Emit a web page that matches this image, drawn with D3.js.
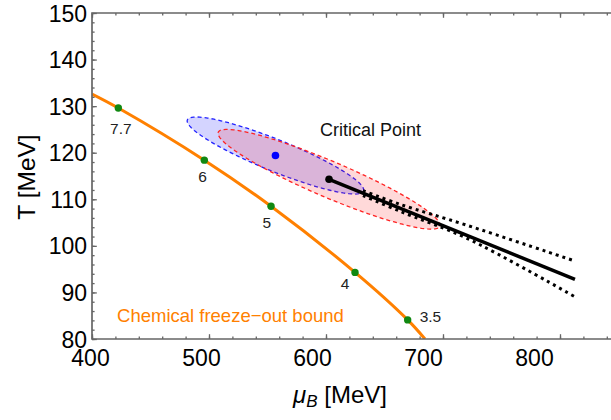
<!DOCTYPE html>
<html>
<head>
<meta charset="utf-8">
<script src="https://cdn.jsdelivr.net/npm/d3@7"></script>
<style>
  body { margin: 0; background: #fff; }
  text { font-family: "Liberation Sans", Arial, sans-serif; }
</style>
</head>
<body>
<div id="chart"></div>
<script>
// freeze-out curve, [muB, T] in MeV
const freezeOutCurve = [[400, 132.6], [422.5, 129.6], [496, 118.4], [553, 108.5], [624.8, 94.3], [669.8, 84.1], [684.6, 80]];
// collision energies (GeV) marked on the curve
const energyLabels = ["7.7", "6", "5", "4", "3.5"];
const energyMuB = [422.5, 496, 553, 624.8, 669.8];
const energyT = [129.6, 118.4, 108.5, 94.3, 84.1];

// critical point and the blue estimate, [muB, T]
const criticalPoint = [602.6, 114.3];
const blueEstimate = [556.8, 119.4];

// uncertainty ellipses: centre, semi-major and conjugate semi-minor vectors (MeV)
const blueCenter = [556.8, 119.4], blueMajor = [75.3, -7.65], blueMinor = [5.06, 3.15];
const redCenter = [602.6, 114.3], redMajor = [94.7, -10.1], redMinor = [6.0, 3.56];

// first order transition line and its error band
const transitionLine = [[602.6, 114.3], [812.8, 92.8]];
const bandUpper = [[631.6, 111.85], [663.2, 108.93], [720.5, 104.42], [811.1, 96.89]];
const bandLower = [[631.6, 110.8], [663.2, 107.43], [720.5, 101.62], [812.8, 89.05]];

const xMajor = [400, 500, 600, 700, 800];
const xMinor = d3.range(400, 861, 20);
const yMajor = [80, 90, 100, 110, 120, 130, 140, 150];
const yMinor = d3.range(80, 150.1, 2);

const width = 611, height = 420;
const plotLeft = 92, plotTop = 13, plotBottom = 339;

const svg = d3.select("#chart").append("svg")
    .attr("width", width)
    .attr("height", height);

const x = d3.scaleLinear().domain([400, 860]).range([plotLeft, plotLeft + 460 * 1.17]);
const y = d3.scaleLinear().domain([80, 150]).range([plotBottom, plotTop]);
// tick labels sit slightly tighter than the ticks in the original
const xLabelScale = d3.scaleLinear().domain([400, 800]).range([90, 534]);

svg.append("clipPath").attr("id", "plotClip")
    .append("rect").attr("x", plotLeft).attr("y", plotTop)
    .attr("width", width - plotLeft).attr("height", plotBottom - plotTop);

const plot = svg.append("g").attr("clip-path", "url(#plotClip)");

// ellipses
function ellipsePoints(c, M, m) {
    return d3.range(0, 360, 3).map(a => {
        const t = a * Math.PI / 180;
        return [c[0] + Math.cos(t) * M[0] + Math.sin(t) * m[0],
                c[1] + Math.cos(t) * M[1] + Math.sin(t) * m[1]];
    });
}
const closed = d3.line().x(d => x(d[0])).y(d => y(d[1])).curve(d3.curveLinearClosed);

plot.append("path")
    .attr("d", closed(ellipsePoints(blueCenter, blueMajor, blueMinor)))
    .attr("fill", "rgba(0,0,255,0.17)")
    .attr("stroke", "#2222ff")
    .attr("stroke-width", 1.3)
    .attr("stroke-dasharray", "4,3");

plot.append("path")
    .attr("d", closed(ellipsePoints(redCenter, redMajor, redMinor)))
    .attr("fill", "rgba(255,0,0,0.15)")
    .attr("stroke", "#ff2222")
    .attr("stroke-width", 1.3)
    .attr("stroke-dasharray", "4,3");

// freeze-out curve
const smooth = d3.line().x(d => x(d[0])).y(d => y(d[1])).curve(d3.curveCatmullRom);
plot.append("path")
    .attr("d", smooth(freezeOutCurve))
    .attr("fill", "none")
    .attr("stroke", "#ff8000")
    .attr("stroke-width", 3);

// transition line and band
const straight = d3.line().x(d => x(d[0])).y(d => y(d[1]));
[bandUpper, bandLower].forEach(b => {
    plot.append("path")
        .attr("d", smooth(b))
        .attr("fill", "none")
        .attr("stroke", "#000")
        .attr("stroke-width", 3)
        .attr("stroke-dasharray", "3,4");
});
plot.append("path")
    .attr("d", straight(transitionLine))
    .attr("fill", "none")
    .attr("stroke", "#000")
    .attr("stroke-width", 3.5);

// points
plot.selectAll(".energyDot")
    .data(energyMuB)
    .join("circle")
    .attr("class", "energyDot")
    .attr("cx", d => x(d))
    .attr("cy", (d, i) => y(energyT[i]))
    .attr("r", 3.7)
    .attr("fill", "#118811");

plot.append("circle")
    .attr("cx", x(blueEstimate[0])).attr("cy", y(blueEstimate[1]))
    .attr("r", 3.8).attr("fill", "#0000ff");

plot.append("circle")
    .attr("cx", x(criticalPoint[0])).attr("cy", y(criticalPoint[1]))
    .attr("r", 3.8).attr("fill", "#000");

// energy labels, offset from their dots in pixels
const labelOffsets = [[2.5, 26], [-1.7, 21.7], [-4.3, 21.3], [-10, 17], [22.8, 2.4]];
svg.selectAll(".energyLabel")
    .data(energyLabels)
    .join("text")
    .attr("class", "energyLabel")
    .attr("x", (d, i) => x(energyMuB[i]) + labelOffsets[i][0])
    .attr("y", (d, i) => y(energyT[i]) + labelOffsets[i][1])
    .attr("text-anchor", "middle")
    .style("font-size", "15.5px")
    .attr("fill", "#222")
    .text(d => d);

svg.append("text")
    .attr("x", x(594.9)).attr("y", y(123.55))
    .style("font-size", "18px")
    .attr("fill", "#111")
    .text("Critical Point");

svg.append("text")
    .attr("x", x(421.4)).attr("y", y(83.56))
    .style("font-size", "18.5px")
    .attr("fill", "#ff8000")
    .text("Chemical freeze\u2212out bound");

// frame
const frameColor = "#666";
svg.append("path")
    .attr("d", `M${width + 5},${plotTop}H${plotLeft}V${plotBottom}H${width + 5}`)
    .attr("fill", "none")
    .attr("stroke", frameColor)
    .attr("stroke-width", 1.7);

function ticks(axis, transform) {
    const g = svg.append("g").attr("transform", transform).call(axis);
    g.select(".domain").remove();
    g.selectAll("line").attr("stroke", frameColor).attr("stroke-width", 1.3);
    g.selectAll("text").remove();
}
ticks(d3.axisBottom(x).tickValues(xMinor).tickSize(-2.6), `translate(0,${plotBottom})`);
ticks(d3.axisBottom(x).tickValues(xMajor).tickSize(-4.8), `translate(0,${plotBottom})`);
ticks(d3.axisTop(x).tickValues(xMinor).tickSize(-2.6), `translate(0,${plotTop})`);
ticks(d3.axisTop(x).tickValues(xMajor).tickSize(-4.8), `translate(0,${plotTop})`);
ticks(d3.axisLeft(y).tickValues(yMinor).tickSize(-2.6), `translate(${plotLeft},0)`);
ticks(d3.axisLeft(y).tickValues(yMajor).tickSize(-4.8), `translate(${plotLeft},0)`);

// tick labels
const xLabels = svg.append("g")
    .attr("transform", `translate(0,${plotBottom})`)
    .call(d3.axisBottom(xLabelScale).tickValues(xMajor).tickSize(0).tickFormat(d3.format("d")));
xLabels.select(".domain").remove();
xLabels.selectAll("text")
    .attr("y", 27).attr("dy", null)
    .attr("fill", "#000")
    .style("font-size", "23px")
    .style("font-family", "'Liberation Sans', Arial, sans-serif");

const yLabels = svg.append("g")
    .attr("transform", `translate(${plotLeft},0)`)
    .call(d3.axisLeft(y).tickValues(yMajor).tickSize(0).tickPadding(5).tickFormat(d3.format("d")));
yLabels.select(".domain").remove();
yLabels.selectAll("text")
    .attr("dy", "0.35em")
    .attr("fill", "#000")
    .style("font-size", "23px")
    .style("font-family", "'Liberation Sans', Arial, sans-serif");

// axis titles
const xTitle = svg.append("text")
    .attr("x", 340).attr("y", 403)
    .attr("text-anchor", "middle")
    .style("font-size", "24px")
    .attr("fill", "#000");
xTitle.append("tspan").style("font-style", "italic").text("\u03bc");
xTitle.append("tspan").style("font-style", "italic").style("font-size", "17px").attr("dy", 4).text("B");
xTitle.append("tspan").attr("dy", -4).text(" [MeV]");

svg.append("text")
    .attr("transform", "translate(35,177) rotate(-90)")
    .attr("text-anchor", "middle")
    .style("font-size", "24.5px")
    .attr("fill", "#000")
    .text("T [MeV]");
</script>
</body>
</html>
